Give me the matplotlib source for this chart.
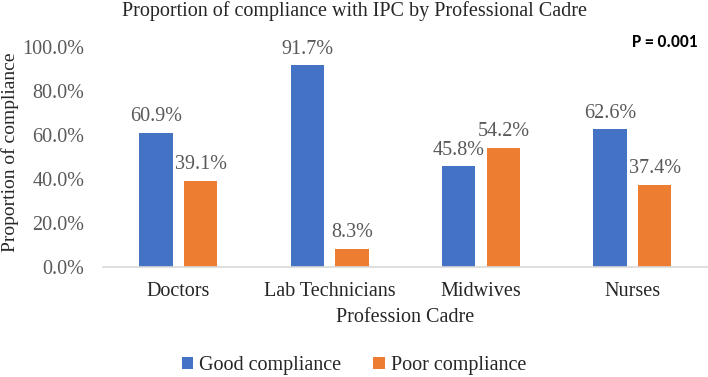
import matplotlib
matplotlib.use("Agg")
import matplotlib.pyplot as plt
import numpy as np
from matplotlib.ticker import FuncFormatter

categories = ["Doctors", "Lab Technicians", "Midwives", "Nurses"]
good = [60.9, 91.7, 45.8, 62.6]
poor = [39.1, 8.3, 54.2, 37.4]
series_names = ["Good compliance", "Poor compliance"]

blue = "#4472C4"
orange = "#ED7D31"
grey = "#595959"
dark = "#262626"

plt.rcParams['font.family'] = ['Liberation Serif', 'DejaVu Serif']

fig = plt.figure(figsize=(7.08, 3.77), dpi=100)
ax = fig.add_axes([0.145, 0.292, 0.855, 0.583])

x = np.arange(len(categories))
w = 0.22
off = 0.148
b1 = ax.bar(x - off, good, w, color=blue, label=series_names[0])
b2 = ax.bar(x + off, poor, w, color=orange, label=series_names[1])

for bars in (b1, b2):
    for b in bars:
        ax.text(b.get_x() + b.get_width() / 2, b.get_height() + 3,
                f"{b.get_height():.1f}%", ha="center", va="bottom",
                fontsize=14.5, color=grey)

ax.set_xlim(-0.5, len(categories) - 0.5)
ax.set_ylim(0, 100)
ax.set_yticks(np.arange(0, 101, 20))
ax.yaxis.set_major_formatter(FuncFormatter(lambda v, p: f"{v:.1f}%"))
ax.set_xticks(x)
ax.set_xticklabels(categories, fontsize=14.5, color=dark)
ax.tick_params(axis="y", labelsize=14.5, labelcolor=grey, length=0, pad=13)
ax.tick_params(axis="x", length=0, pad=11)

for s in ("top", "right", "left"):
    ax.spines[s].set_visible(False)
ax.spines["bottom"].set_color("#D9D9D9")
ax.spines["bottom"].set_linewidth(1.2)

ax.set_xlabel("Profession Cadre", fontsize=14.5, color=dark, va="center")
ax.xaxis.set_label_coords(0.5, -0.232)
ax.set_ylabel("Proportion of compliance", fontsize=14, color=dark, va="center")
ax.yaxis.set_label_coords(-0.153, 0.52)
fig.text(0.5, 0.972, "Proportion of compliance with IPC by Professional Cadre",
         ha="center", va="center", fontsize=14.5, color=dark)
fig.text(0.985, 0.888, "P = 0.001", ha="right", va="center", fontsize=12.5,
         fontweight="bold", family=["Carlito", "Liberation Sans", "DejaVu Sans"])

fig.legend(loc="center", bbox_to_anchor=(0.5, 0.03), ncol=2, frameon=False,
           fontsize=14.5, handlelength=0.55, handleheight=0.55, handletextpad=0.3,
           columnspacing=1.6, labelcolor=dark)

fig.savefig("out.png", dpi=100)
